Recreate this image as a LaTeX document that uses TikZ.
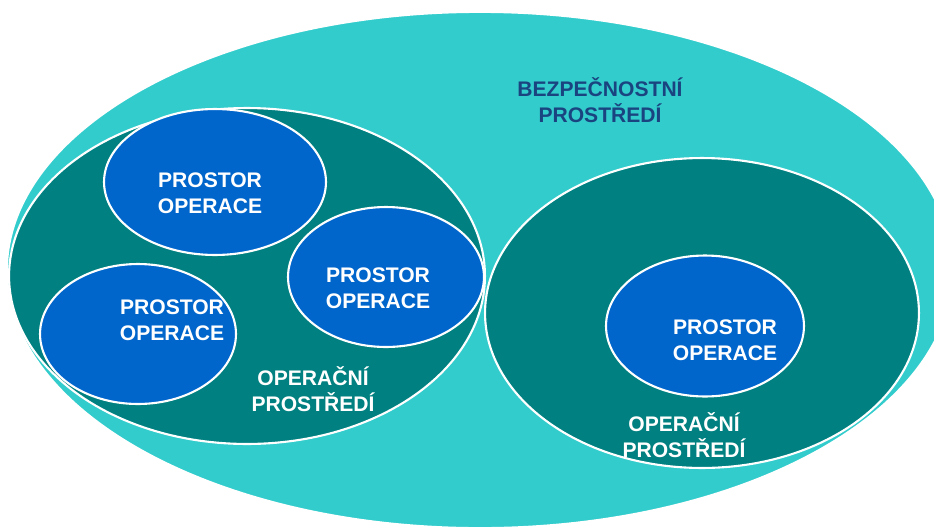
\documentclass[tikz,border=0pt]{standalone}
\usepackage{fontspec}
\setmainfont{Liberation Sans}
\usepackage{tikz}
\usetikzlibrary{shapes.geometric}
\usetikzlibrary{positioning}
\definecolor{bezpcolor}{HTML}{33CCCC}
\definecolor{opcolor}{HTML}{008080}
\definecolor{spacecolor}{HTML}{0066CC}
\definecolor{titlecolor}{HTML}{1A4480}
\tikzstyle{bezp} = [
    ellipse, inner sep=0pt, draw=white, line width=1pt, fill=bezpcolor]
\tikzstyle{openv} = [
    ellipse, inner sep=0pt, draw=white, line width=1.2pt, fill=opcolor]
\tikzstyle{opspace} = [
    ellipse, inner sep=0pt, draw=white, line width=1.2pt, fill=spacecolor,
    minimum width=3.92cm, minimum height=2.8cm]
\tikzstyle{label} = [
    text centered, align=center, inner sep=0pt, text=white,
    font=\fontsize{12}{14.5}\selectfont\bfseries]

\begin{document}
\begin{tikzpicture}[x=0.02cm,y=-0.02cm]
\useasboundingbox (0,0) rectangle (934,528);

% security environment
\node (bezp-env) [bezp, minimum width=18.92cm, minimum height=10.32cm] at (480,270) {};

% operational environments
\node (op-left) [openv, minimum width=9.52cm, minimum height=6.72cm] at (247,276) {};
\node (op-right) [openv, minimum width=8.68cm, minimum height=6.2cm] at (702,313) {};

% operation spaces
\node (space-a) [opspace, minimum width=4.44cm, minimum height=2.92cm] at (215,182) {};
\node (space-b) [opspace] at (386,277) {};
\node (space-c) [opspace] at (138,334) {};
\node (space-d) [opspace, minimum width=3.96cm, minimum height=2.82cm] at (705,326) {};

% texts
\node (bezp-text) [label, text=titlecolor] at (600,100) {BEZPEČNOSTNÍ \\ PROSTŘEDÍ};
\node (space-a-text) [label] at (210,193) {PROSTOR \\ OPERACE};
\node (space-b-text) [label] at (378,288) {PROSTOR \\ OPERACE};
\node (space-c-text) [label] at (172,320) {PROSTOR \\ OPERACE};
\node (space-d-text) [label] at (725,340) {PROSTOR \\ OPERACE};
\node (op-left-text) [label] at (313,389) {OPERAČNÍ \\ PROSTŘEDÍ};
\node (op-right-text) [label] at (684,435) {OPERAČNÍ \\ PROSTŘEDÍ};
\end{tikzpicture}
\end{document}
